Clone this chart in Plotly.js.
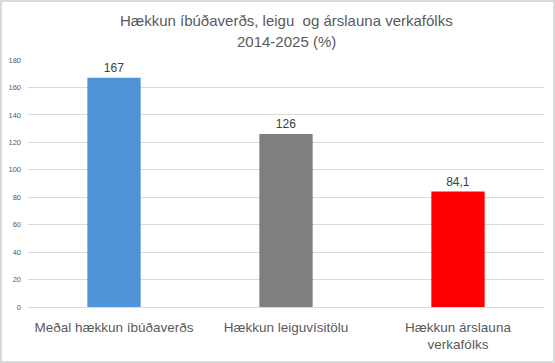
<!DOCTYPE html>
<html>
<head>
<meta charset="utf-8">
<script src="https://cdn.plot.ly/plotly-3.0.1.min.js"></script>
<style>
html,body{margin:0;padding:0;background:#d9d9d9;}
#chart{position:absolute;left:2px;top:2px;width:551px;height:359px;background:#fff;}
</style>
</head>
<body>
<div id="chart"></div>
<script>
const categories = ["Meðal hækkun íbúðaverðs", "Hækkun leiguvísitölu", "Hækkun árslauna<br>verkafólks"];
const values = [167, 126, 84.1];
const valueLabels = ["167", "126", "84,1"];
const barColors = ["#4f94d9", "#7f7f7f", "#ff0000"];
const yTicks = [0, 20, 40, 60, 80, 100, 120, 140, 160, 180];
const titleLines = ["Hækkun íbúðaverðs, leigu  og árslauna verkafólks", "2014-2025 (%)"];

const FONT = "Liberation Sans, Arial, sans-serif";

const trace = {
  type: "bar",
  x: categories,
  y: values,
  text: valueLabels,
  textposition: "outside",
  textfont: {family: FONT, size: 12, color: "#404040"},
  cliponaxis: false,
  marker: {color: barColors},
  hoverinfo: "none"
};

const layout = {
  width: 551, height: 359,
  margin: {l: 26, r: 9, t: 58, b: 54},
  paper_bgcolor: "#fff", plot_bgcolor: "#fff",
  font: {family: FONT, color: "#595959"},
  bargap: 0.69,
  showlegend: false,
  annotations: [
    {text: titleLines[0], xref: "paper", yref: "paper", x: 0.5, y: 1.16, xanchor: "center", yanchor: "middle",
     showarrow: false, font: {family: FONT, size: 15, color: "#595959"}},
    {text: titleLines[1], xref: "paper", yref: "paper", x: 0.5, y: 1.074, xanchor: "center", yanchor: "middle",
     showarrow: false, font: {family: FONT, size: 15, color: "#595959"}}
  ],
  xaxis: {
    type: "category",
    tickfont: {size: 13.5, color: "#595959"},
    showgrid: false, showline: false, ticks: "",
    ticklabelstandoff: 10
  },
  yaxis: {
    range: [0, 180],
    tickvals: yTicks,
    ticktext: yTicks.map(String),
    tickfont: {size: 7.5, color: "#595959"},
    gridcolor: "#d9d9d9", gridwidth: 1,
    zeroline: true, zerolinecolor: "#d9d9d9", zerolinewidth: 1,
    showline: false, ticks: "",
    ticklabelstandoff: 6
  }
};

Plotly.newPlot("chart", [trace], layout, {staticPlot: true, displayModeBar: false});
</script>
</body>
</html>
